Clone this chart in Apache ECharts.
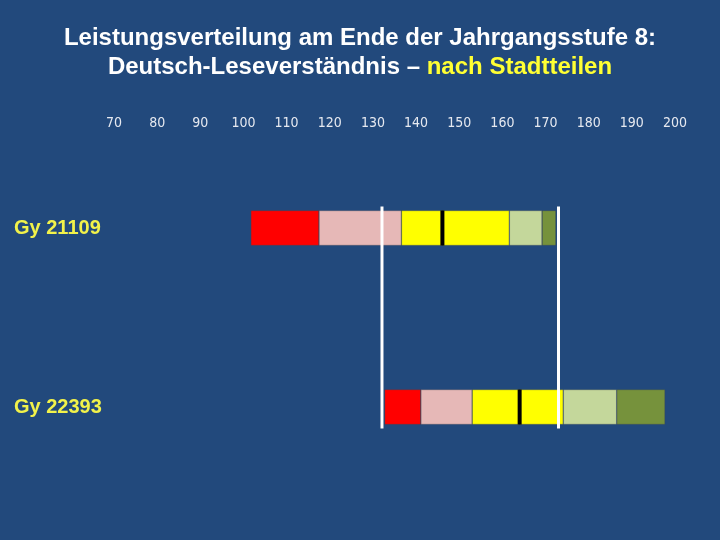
<!DOCTYPE html>
<html>
<head>
<meta charset="utf-8">
<script src="https://cdn.jsdelivr.net/npm/echarts@6/dist/echarts.min.js"></script>
<style>
  html, body { margin: 0; padding: 0; background: #22497c; }
  #main { width: 720px; height: 540px; }
</style>
</head>
<body>
<div id="main"></div>
<script>
// Stadtteile
const categories = ['Gy 21109', 'Gy 22393']
// Perzentile (5, 10, 25, 50, 75, 90, 95)
const p05 = [101.7, 132.7]
const p10 = [117.5, 141.1]
const p25 = [136.6, 153.0]
const p50 = [146.1, 164.0]
const p75 = [161.6, 174.1]
const p90 = [169.2, 186.5]
const p95 = [172.4, 197.7]
// weisse Referenzlinien
const refLines = [132.1, 173.0]
const xTicks = [70, 200, 10]

const diff = (a, b) => a.map((v, i) => +(v - b[i]).toFixed(2))

const segments = [
  { name: 'base', data: p05, color: 'transparent' },
  { name: 'P5-P10', data: diff(p10, p05), color: '#ff0000' },
  { name: 'P10-P25', data: diff(p25, p10), color: '#e6b8b7' },
  { name: 'P25-P50', data: diff(p50, p25), color: '#ffff00' },
  { name: 'P50-P75', data: diff(p75, p50), color: '#ffff00' },
  { name: 'P75-P90', data: diff(p90, p75), color: '#c4d79b' },
  { name: 'P90-P95', data: diff(p95, p90), color: '#76923c' },
]

const chart = echarts.init(document.getElementById('main'))

const series = segments.map((s, i) => ({
  name: s.name,
  type: 'bar',
  stack: 'dist',
  barWidth: 35,
  data: s.data,
  silent: true,
  itemStyle: {
    color: s.color,
    borderColor: i === 0 ? 'transparent' : 'rgba(70,70,70,0.5)',
    borderWidth: i === 0 ? 0 : 0.6,
  },
}))

// Median als schwarzer Strich
series.push({
  name: 'Median',
  type: 'custom',
  silent: true,
  z: 5,
  data: p50.map((v, i) => [v, i]),
  renderItem(params, api) {
    const pt = api.coord([api.value(0), api.value(1)])
    return {
      type: 'line',
      shape: { x1: pt[0], y1: pt[1] - 17.5, x2: pt[0], y2: pt[1] + 17.5 },
      style: { stroke: '#000', lineWidth: 4 },
    }
  },
})

// weisse senkrechte Linien ueber beide Balken
series.push({
  name: 'Referenz',
  type: 'custom',
  silent: true,
  z: 6,
  data: refLines.map((v) => [v]),
  renderItem(params, api) {
    const top = api.coord([api.value(0), 0])
    const bottom = api.coord([api.value(0), categories.length - 1])
    return {
      type: 'line',
      shape: { x1: top[0], y1: top[1] - 21.5, x2: bottom[0], y2: bottom[1] + 21.5 },
      style: { stroke: '#ffffff', lineWidth: 3 },
    }
  },
})

const option = {
  backgroundColor: '#22497c',
  animation: false,
  title: {
    text: 'Leistungsverteilung am Ende der Jahrgangsstufe 8:\nDeutsch-Leseverständnis – {y|nach Stadtteilen}',
    left: 'center',
    top: 19,
    textStyle: {
      color: '#ffffff',
      fontSize: 24,
      fontWeight: 'bold',
      fontFamily: 'Liberation Sans, Arial, sans-serif',
      lineHeight: 29,
      align: 'center',
      rich: {
        y: {
          color: '#ffff33',
          fontSize: 24,
          fontWeight: 'bold',
          fontFamily: 'Liberation Sans, Arial, sans-serif',
          lineHeight: 29,
        },
      },
    },
  },
  grid: {
    left: 114,
    right: 45,
    top: 138.5,
    height: 358,
  },
  xAxis: {
    type: 'value',
    position: 'top',
    min: xTicks[0],
    max: xTicks[1],
    interval: xTicks[2],
    axisLine: { show: false },
    axisTick: { show: false },
    splitLine: { show: false },
    axisLabel: {
      color: '#e6e9f0',
      fontSize: 14,
      fontFamily: 'Liberation Sans Narrow, DejaVu Sans Condensed, sans-serif',
      margin: 8,
    },
  },
  yAxis: {
    type: 'category',
    inverse: true,
    data: categories,
    axisLine: { show: false },
    axisTick: { show: false },
    splitLine: { show: false },
    axisLabel: {
      color: '#f2f24a',
      fontSize: 20,
      fontWeight: 'bold',
      fontFamily: 'Liberation Sans, Arial, sans-serif',
      align: 'left',
      margin: 100,
      padding: [5, 0, 0, 0],
    },
  },
  series: series,
}

chart.setOption(option)
</script>
</body>
</html>
